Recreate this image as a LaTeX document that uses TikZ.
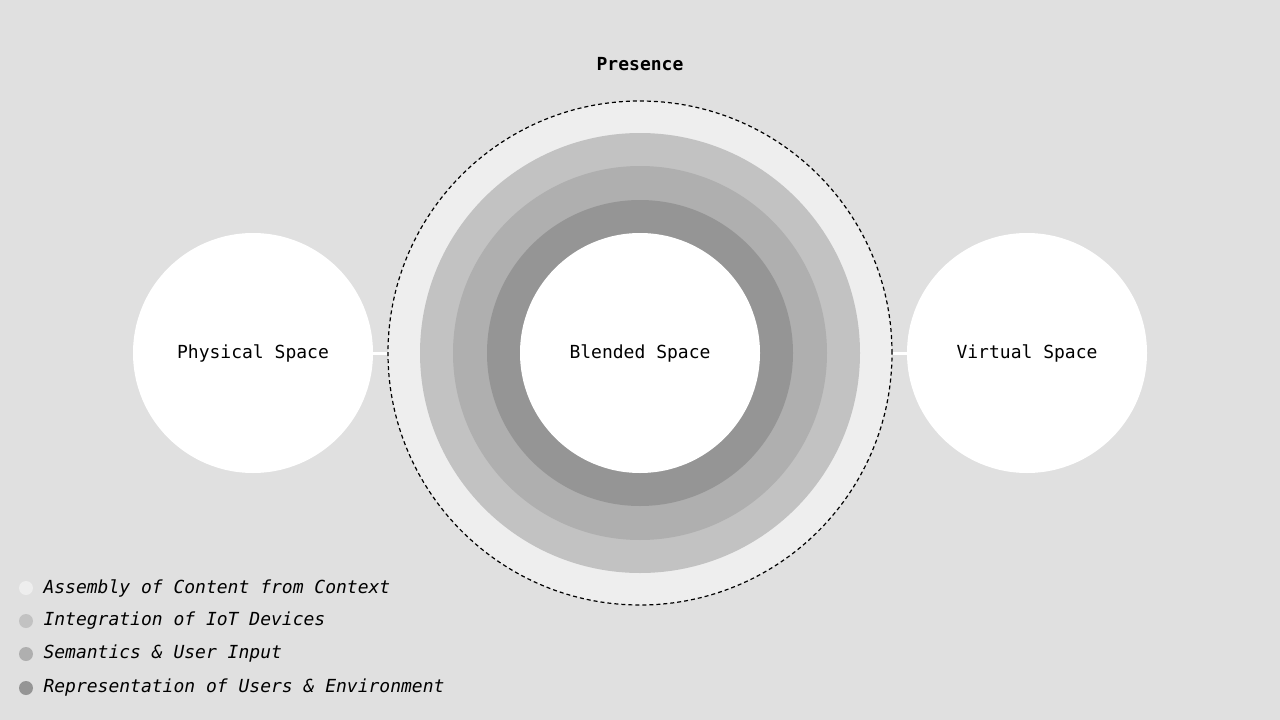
\documentclass[tikz,border=0pt]{standalone}
\usepackage{fontspec}
\setmainfont{DejaVu Sans Mono}
\definecolor{bg}{HTML}{E0E0E0}
\definecolor{c1}{HTML}{EEEEEE}
\definecolor{c2}{HTML}{C2C2C2}
\definecolor{c3}{HTML}{AFAFAF}
\definecolor{c4}{HTML}{959595}
\begin{document}
\begin{tikzpicture}[x=1pt,y=-1pt,
  lbl/.style={font=\fontsize{18}{20}\selectfont},
  leg/.style={font=\fontsize{18}{20}\selectfont\itshape,anchor=west},
  space/.style={circle,fill=white,minimum size=240pt,inner sep=0pt,lbl},
  link/.style={white,line width=3pt}]
\fill[bg] (0,0) rectangle (1280,720);
\node[circle,fill=c1,draw=black,dashed,line width=1.2pt,dash pattern=on 4pt off 3pt,minimum size=504pt,inner sep=0pt] (pres) at (640,353) {};
\fill[c2] (640,353) circle (220);
\fill[c3] (640,353) circle (187);
\fill[c4] (640,353) circle (153);
\node[space] (blend) at (640,353) {Blended Space};
\node[space] (phys) at (253,353) {Physical Space};
\node[space] (virt) at (1027,353) {Virtual Space};
\draw[link] (phys.east) -- (pres.west);
\draw[link] (pres.east) -- (virt.west);
\node[font=\fontsize{18}{20}\selectfont\bfseries] (title) at (640,64) {Presence};
\foreach \c/\y/\t [count=\i] in {c1/588/Assembly of Content from Context,c2/621/Integration of IoT Devices,c3/654/Semantics \& User Input,c4/688/Representation of Users \& Environment}{
  \fill[\c] (26,\y) circle (7);
  \node[leg] (leg\i) at (40,\y) {\t};
}
\end{tikzpicture}
\end{document}
